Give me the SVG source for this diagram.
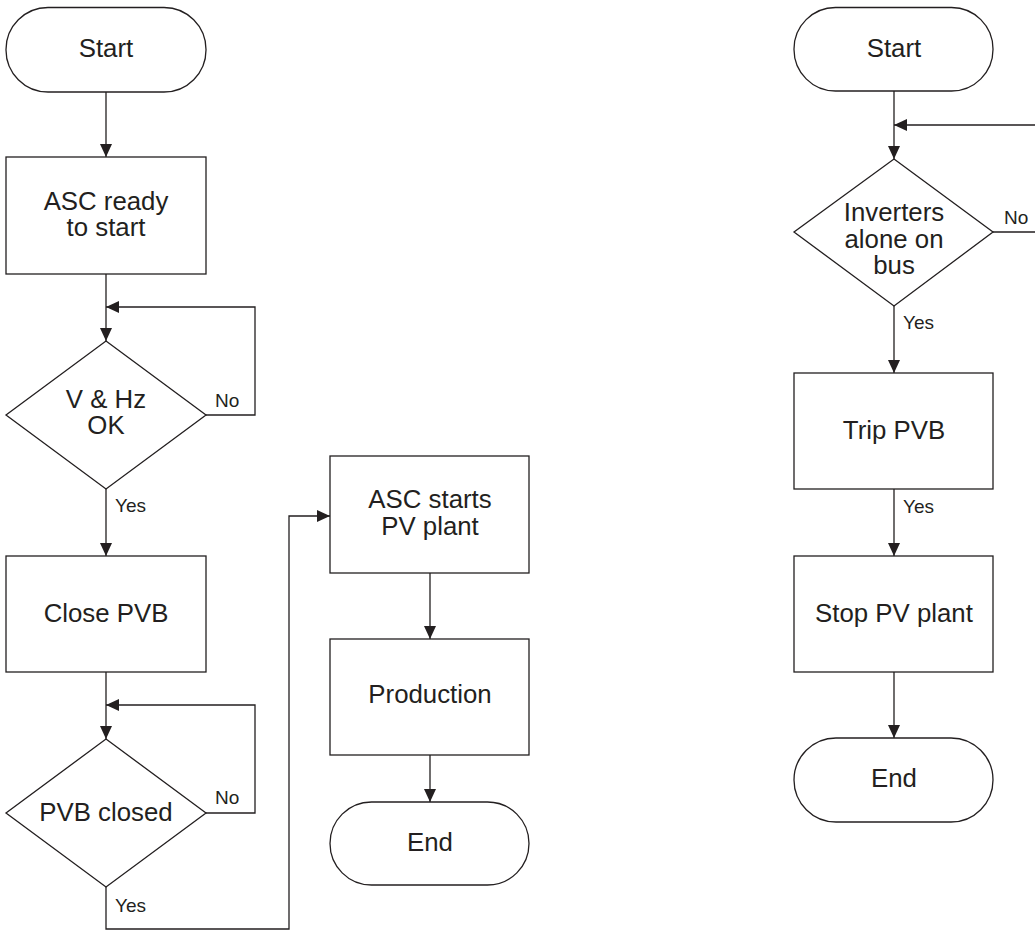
<svg xmlns="http://www.w3.org/2000/svg" width="1035" height="930" viewBox="0 0 1035 930">
<style>
.shape{fill:#fff;stroke:#231f20;stroke-width:1.3}
.conn{fill:none;stroke:#231f20;stroke-width:1.3}
.t{font-family:"Liberation Sans",Arial,sans-serif;font-size:25.8px;fill:#231f20;text-anchor:middle}
.l{font-family:"Liberation Sans",Arial,sans-serif;font-size:19px;fill:#231f20}
</style>
<defs>
<marker id="arr" markerUnits="userSpaceOnUse" markerWidth="13" markerHeight="12" refX="13" refY="6" orient="auto">
<path d="M0,0 L13,6 L0,12 z" fill="#231f20"/>
</marker>
</defs>
<rect width="1035" height="930" fill="#fff"/>
<g id="connectors">
<path class="conn" d="M106,92 V157" marker-end="url(#arr)"/>
<path class="conn" d="M106,274 V341" marker-end="url(#arr)"/>
<path class="conn" d="M206,415 H255 V307 H106" marker-end="url(#arr)"/>
<path class="conn" d="M106,489 V556" marker-end="url(#arr)"/>
<path class="conn" d="M106,672 V739" marker-end="url(#arr)"/>
<path class="conn" d="M206,813 H255 V705 H106" marker-end="url(#arr)"/>
<path class="conn" d="M106,887 V929 H289 V516 H330" marker-end="url(#arr)"/>
<path class="conn" d="M430,573 V639" marker-end="url(#arr)"/>
<path class="conn" d="M430,755 V802" marker-end="url(#arr)"/>
<path class="conn" d="M894,91 V159" marker-end="url(#arr)"/>
<path class="conn" d="M993,232 H1045 V125 H894" marker-end="url(#arr)"/>
<path class="conn" d="M894,306 V373" marker-end="url(#arr)"/>
<path class="conn" d="M894,489 V556" marker-end="url(#arr)"/>
<path class="conn" d="M894,672 V738" marker-end="url(#arr)"/>
<text class="l" x="215" y="407">No</text>
<text class="l" x="115" y="512">Yes</text>
<text class="l" x="215" y="804">No</text>
<text class="l" x="115" y="912">Yes</text>
<text class="l" x="1004" y="224">No</text>
<text class="l" x="903" y="329">Yes</text>
<text class="l" x="903" y="513">Yes</text>
</g>
<g id="start1"><rect class="shape" x="6" y="7.5" width="200" height="84.5" rx="42" ry="42"/><text class="t" x="106" y="57">Start</text></g>
<g id="asc_ready"><rect class="shape" x="6" y="157" width="200" height="117"/><text class="t" x="106" y="210">ASC ready</text><text class="t" x="106" y="236">to start</text></g>
<g id="vhz_ok"><polygon class="shape" points="106,341 206,415 106,489 6,415"/><text class="t" x="106" y="408">V &amp; Hz</text><text class="t" x="106" y="434">OK</text></g>
<g id="close_pvb"><rect class="shape" x="6" y="556" width="200" height="116"/><text class="t" x="106" y="622">Close PVB</text></g>
<g id="pvb_closed"><polygon class="shape" points="106,739 206,813 106,887 6,813"/><text class="t" x="106" y="821">PVB closed</text></g>
<g id="asc_starts"><rect class="shape" x="330" y="456" width="199" height="117"/><text class="t" x="430" y="508">ASC starts</text><text class="t" x="430" y="535">PV plant</text></g>
<g id="production"><rect class="shape" x="330" y="639" width="199" height="116"/><text class="t" x="430" y="703">Production</text></g>
<g id="end1"><rect class="shape" x="330" y="802" width="199" height="83" rx="41.5" ry="41.5"/><text class="t" x="430" y="851">End</text></g>
<g id="start2"><rect class="shape" x="794" y="7.5" width="199" height="83.5" rx="41.5" ry="41.5"/><text class="t" x="894" y="57">Start</text></g>
<g id="inverters"><polygon class="shape" points="894,159 993,232 894,306 794,232"/><text class="t" x="894" y="221">Inverters</text><text class="t" x="894" y="248">alone on</text><text class="t" x="894" y="274">bus</text></g>
<g id="trip_pvb"><rect class="shape" x="794" y="373" width="199" height="116"/><text class="t" x="894" y="439">Trip PVB</text></g>
<g id="stop_pv"><rect class="shape" x="794" y="556" width="199" height="116"/><text class="t" x="894" y="622">Stop PV plant</text></g>
<g id="end2"><rect class="shape" x="794" y="738" width="199" height="84" rx="42" ry="42"/><text class="t" x="894" y="787">End</text></g>
</svg>
